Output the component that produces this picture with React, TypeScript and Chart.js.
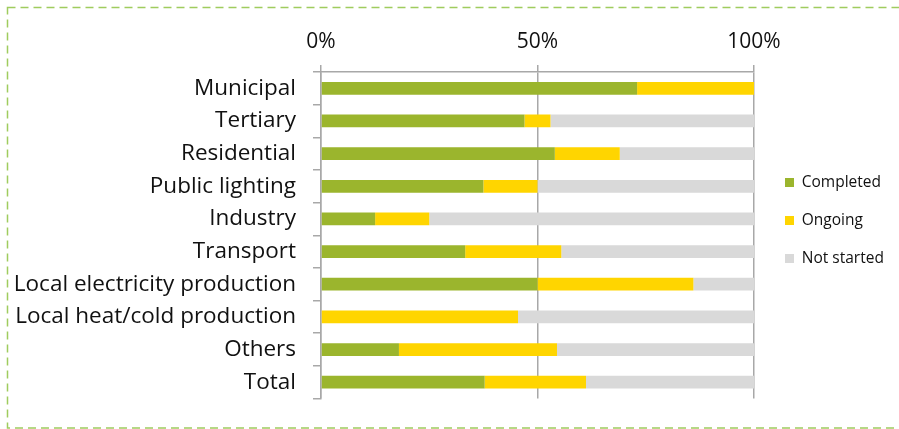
import React, { useEffect, useRef } from 'react';
import { Chart, registerables } from 'chart.js';

Chart.register(...registerables);

const categories = [
  'Municipal',
  'Tertiary',
  'Residential',
  'Public lighting',
  'Industry',
  'Transport',
  'Local electricity production',
  'Local heat/cold production',
  'Others',
  'Total',
];
const seriesNames = ['Completed', 'Ongoing', 'Not started'];
const completed = [73, 47, 54, 37.5, 12.5, 33.3, 50, 0, 18, 37.8];
const ongoing = [27, 6, 15, 12.5, 12.5, 22.2, 36, 45.5, 36.5, 23.4];
const notStarted = [0, 47, 31, 50, 75, 44.5, 14, 54.5, 45.5, 38.8];
const xTickValues = [0, 50, 100];

const FONT = '"Open Sans", Lato, sans-serif';
const W = 899;
const H = 429;
const LEG_FS = 15.5;
const LEG_PAD = 22.5;
const LEG_BOX = 9;

export default function App() {
  const ref = useRef<HTMLCanvasElement | null>(null);

  useEffect(() => {
    if (!ref.current) return;
    const m = document.createElement('canvas').getContext('2d')!;
    m.font = `${LEG_FS}px ${FONT}`;
    const tw = Math.max(...seriesNames.map((n) => m.measureText(n).width));
    const legendW = LEG_PAD + LEG_BOX + LEG_FS / 2 + tw + 10;
    const plotRight = 754;
    const padRight = Math.max(0, W - plotRight - legendW);

    const frame = {
      id: 'frame',
      beforeDraw(chart: any) {
        const ctx = chart.ctx;
        ctx.save();
        ctx.fillStyle = '#ffffff';
        ctx.fillRect(0, 0, W, H);
        ctx.setLineDash([8, 5]);
        ctx.strokeStyle = '#9fcc5e';
        ctx.lineWidth = 1.5;
        ctx.strokeRect(7.5, 7.5, W + 10, 420.5);
        ctx.restore();
      },
      afterLayout(chart: any) {
        const l = chart.legend;
        if (!l) return;
        const dx = 785 - LEG_PAD - l.left;
        l.left += dx;
        l.right += dx;
        const colH = seriesNames.length * (LEG_FS + LEG_PAD);
        const center = (l.top + LEG_PAD + l.bottom - colH) / 2 + LEG_FS / 2;
        const dy = 182.5 - center;
        l.top += dy;
        l.bottom += dy;
      },
    };

    const chart = new Chart(ref.current, {
      type: 'bar',
      data: {
        labels: categories,
        datasets: [
          { label: seriesNames[0], data: completed, backgroundColor: '#9bb52d', borderWidth: 0 },
          { label: seriesNames[1], data: ongoing, backgroundColor: '#ffd500', borderWidth: 0 },
          { label: seriesNames[2], data: notStarted, backgroundColor: '#d9d9d9', borderWidth: 0 },
        ],
      },
      options: {
        indexAxis: 'y',
        responsive: false,
        animation: false,
        devicePixelRatio: 1,
        layout: { padding: { left: 0, top: 0, right: padRight, bottom: 27 } },
        datasets: { bar: { barPercentage: 0.39, categoryPercentage: 1 } },
        scales: {
          x: {
            type: 'linear',
            position: 'top',
            stacked: true,
            min: 0,
            max: 100,
            afterBuildTicks(scale: any) {
              scale.ticks = xTickValues.map((v) => ({ value: v }));
            },
            afterFit(scale: any) {
              scale.height = 72;
            },
            ticks: {
              callback: (v: any) => `${v}%`,
              font: { family: FONT, size: 21 },
              color: '#111111',
              padding: 10,
              maxRotation: 0,
            },
            grid: {
              color: '#a8a8a8',
              lineWidth: 1.5,
              tickLength: 7,
              drawOnChartArea: true,
            },
            border: { color: '#a8a8a8', width: 1.5 },
          },
          y: {
            type: 'category',
            stacked: true,
            afterFit(scale: any) {
              scale.width = 321;
            },
            ticks: {
              font: { family: FONT, size: 22.5 },
              color: '#111111',
              padding: 17,
              autoSkip: false,
            },
            grid: {
              offset: true,
              drawOnChartArea: false,
              color: '#a8a8a8',
              lineWidth: 1.5,
              tickLength: 8,
            },
            border: { color: '#a8a8a8', width: 1.5 },
          },
        },
        plugins: {
          tooltip: { enabled: false },
          legend: {
            position: 'right',
            labels: {
              font: { family: FONT, size: LEG_FS },
              color: '#111111',
              boxWidth: LEG_BOX,
              boxHeight: LEG_BOX,
              padding: LEG_PAD,
            },
          },
        },
      },
      plugins: [frame],
    });
    return () => chart.destroy();
  }, []);

  return (
    <div style={{ position: 'absolute', left: 0, top: 0, width: W, height: H }}>
      <canvas ref={ref} width={W} height={H} style={{ width: W, height: H, display: 'block' }} />
    </div>
  );
}
